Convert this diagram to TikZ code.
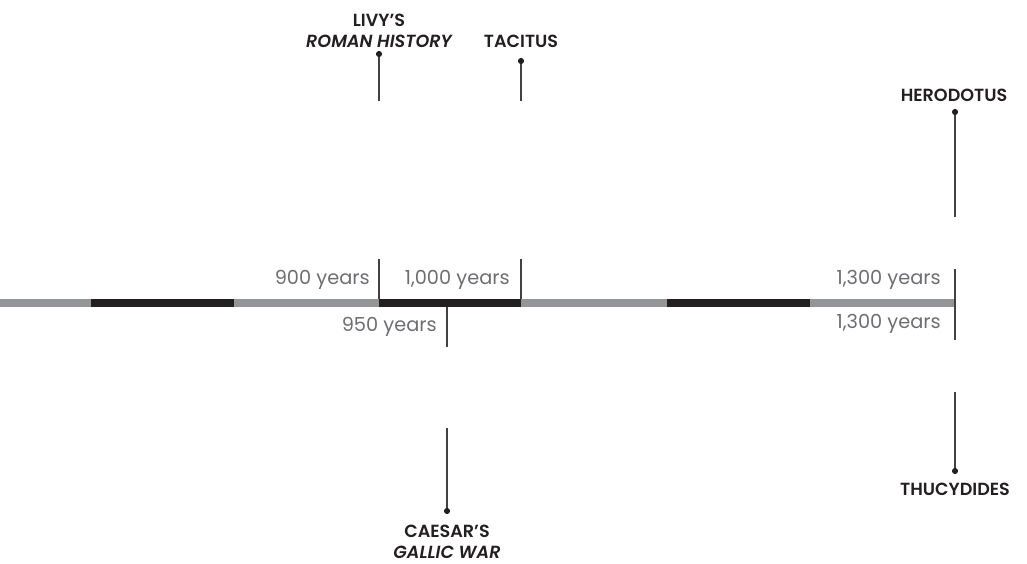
\documentclass[tikz,border=0pt]{standalone}
\usepackage{fontspec}
\setmainfont{Poppins}[BoldFont={Poppins SemiBold},BoldItalicFont={Poppins SemiBold Italic}]
\usetikzlibrary{positioning}
\definecolor{bargray}{HTML}{939598}
\definecolor{barblack}{HTML}{231F20}
\definecolor{yeargray}{HTML}{6D6E71}
\tikzset{name label/.style={font=\fontsize{10}{12}\selectfont\bfseries,text=barblack,align=center,inner sep=0pt},
  year label/.style={font=\fontsize{11}{13}\selectfont,text=yeargray,inner sep=0pt,anchor=east},
  pin dot/.style={circle,fill=barblack,inner sep=0pt,minimum size=3.5pt},
  pin line/.style={draw=barblack!85,line width=0.7pt},
  year tick/.style={draw=barblack!85,line width=0.7pt}}

\begin{document}
\begin{tikzpicture}[x=0.02cm,y=-0.02cm]
            \useasboundingbox (0,0) rectangle (1027,564);

            % the bar
            \foreach \a/\b/\c in {0/91/bargray,91/234/barblack,234/379/bargray,379/521/barblack,521/667/bargray,667/810/barblack,810/955/bargray}
              \fill[\c] (\a,299) rectangle (\b,307);

            % tick marks
            \coordinate (t900a) at (379,259);
            \coordinate (t900b) at (379,299);
            \coordinate (t1000a) at (521,259);
            \coordinate (t1000b) at (521,299);
            \coordinate (t950a) at (447,307);
            \coordinate (t950b) at (447,347);
            \coordinate (t1300a) at (955,269);
            \coordinate (t1300b) at (955,340);
            \draw[year tick] (t900a) -- (t900b);
            \draw[year tick] (t1000a) -- (t1000b);
            \draw[year tick] (t950a) -- (t950b);
            \draw[year tick] (t1300a) -- (t1300b);

            \node[year label] (y900) at (370,280) {900 years};
            \node[year label] (y1000) at (510,280) {1,000 years};
            \node[year label] (y950) at (437,327) {950 years};
            \node[year label] (y1300top) at (941,280) {1,300 years};
            \node[year label] (y1300bot) at (941,324) {1,300 years};

            % authors
            \node[name label] (livy) at (379,31) {LIVY'S\\\itshape ROMAN HISTORY};
            \node[name label] (tacitus) at (521,41) {TACITUS};
            \node[name label] (herodotus) at (954,95) {HERODOTUS};
            \node[name label] (thucydides) at (955,489) {THUCYDIDES};
            \node[name label] (caesar) at (447,542) {CAESAR'S\\\itshape GALLIC WAR};

            \node[pin dot] (livydot) at (379,54) {};
            \node[pin dot] (tacitusdot) at (521,61) {};
            \node[pin dot] (herodotusdot) at (955,112) {};
            \node[pin dot] (thucydidesdot) at (955,471) {};
            \node[pin dot] (caesardot) at (447,511) {};

            \coordinate (livyend) at (379,101);
            \coordinate (tacitusend) at (521,101);
            \coordinate (herodotusend) at (955,217);
            \coordinate (thucydidesend) at (955,392);
            \coordinate (caesarend) at (447,428);

            \path[pin line]
            (livydot) -- (livyend)
            (tacitusdot) -- (tacitusend)
            (herodotusdot) -- (herodotusend)
            (thucydidesdot) -- (thucydidesend)
            (caesardot) -- (caesarend);
        \end{tikzpicture}
\end{document}
